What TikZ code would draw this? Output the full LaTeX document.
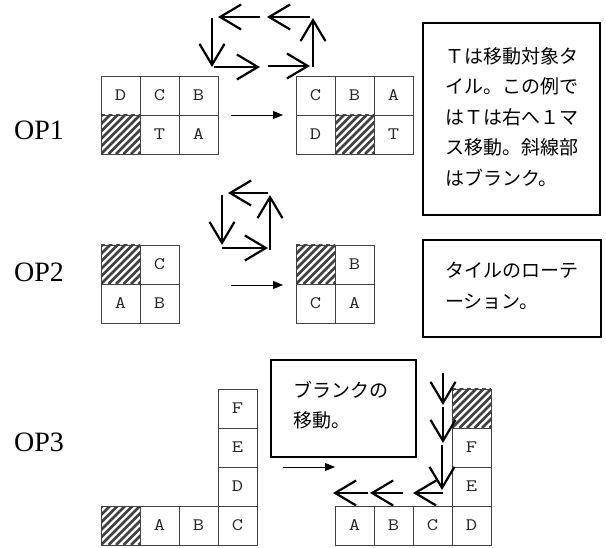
\documentclass[tikz,border=0pt]{standalone}
\usepackage{fontspec}
\setmainfont{Liberation Serif}
\newfontfamily\jp{Noto Sans CJK JP}
\newfontfamily\cellfont[FakeStretch=1.25]{Latin Modern Mono}
\usetikzlibrary{arrows.meta}
\begin{document}
\begin{tikzpicture}[x=1pt,y=-1pt,
  cell/.style={draw=black!75, line width=0.9pt, minimum width=39pt, minimum height=39pt, inner sep=0pt, text=black!85, font=\cellfont\fontsize{17.5}{17.5}\selectfont},
  blank/.style={cell, path picture={\foreach \k in {-45,-37.5,...,45} \draw[line width=2.7pt] ([xshift=\k pt]path picture bounding box.south west) -- ++(42pt,42pt);}},
  oplabel/.style={anchor=base west, inner sep=0pt, font=\fontsize{28}{28}\selectfont},
  note/.style={draw, line width=2pt, inner sep=0pt},
  notetext/.style={anchor=north west, align=left, inner sep=0pt, font=\jp\fontsize{19}{30.5}\selectfont},
  move/.style={line width=0.8pt, -{Triangle[length=10pt,width=8pt]}},
  cyc/.style={line width=2.2pt, -{Straight Barb[length=21pt,width=25pt]}}
]
\useasboundingbox (0,0) rectangle (606,548);

% ---------- OP1 ----------
\node[oplabel] (op1) at (14,140) {OP1};
\node[cell]  (a1) at (120.5,95.5) {D};
\node[cell]  (a2) at (159.5,95.5) {C};
\node[cell]  (a3) at (198.5,95.5) {B};
\node[blank] (a4) at (120.5,134.5) {};
\node[cell]  (a5) at (159.5,134.5) {T};
\node[cell]  (a6) at (198.5,134.5) {A};
\node[cell]  (b1) at (315.5,95.5) {C};
\node[cell]  (b2) at (354.5,95.5) {B};
\node[cell]  (b3) at (393.5,95.5) {A};
\node[cell]  (b4) at (315.5,134.5) {D};
\node[blank] (b5) at (354.5,134.5) {};
\node[cell]  (b6) at (393.5,134.5) {T};
\coordinate (m1s) at (231,115);
\coordinate (m1e) at (283,115);
\draw[move] (m1s) -- (m1e);
\coordinate (c1a) at (212,18);
\coordinate (c1b) at (212,67);
\coordinate (c1c) at (214,67);
\coordinate (c1d) at (260,67);
\coordinate (c1e) at (268,66);
\coordinate (c1f) at (310,66);
\coordinate (c1g) at (313,67);
\coordinate (c1h) at (313,18);
\coordinate (c1i) at (310,17);
\coordinate (c1j) at (267,17);
\coordinate (c1k) at (260,17);
\coordinate (c1l) at (218,17);
\draw[cyc] (c1a) -- (c1b);
\draw[cyc] (c1c) -- (c1d);
\draw[cyc] (c1e) -- (c1f);
\draw[cyc] (c1g) -- (c1h);
\draw[cyc] (c1i) -- (c1j);
\draw[cyc] (c1k) -- (c1l);
\node[note, minimum width=177pt, minimum height=192pt] (n1) at (511.5,119) {};
\node[notetext] (t1) at (445,47) {Ｔは移動対象タ\\イル。この例で\\はＴは右へ１マ\\ス移動。斜線部\\はブランク。};

% ---------- OP2 ----------
\node[oplabel] (op2) at (14,282) {OP2};
\node[blank] (c1) at (120.5,264.5) {};
\node[cell]  (c2) at (159.5,264.5) {C};
\node[cell]  (c3) at (120.5,303.5) {A};
\node[cell]  (c4) at (159.5,303.5) {B};
\node[blank] (d1) at (315.5,264.5) {};
\node[cell]  (d2) at (354.5,264.5) {B};
\node[cell]  (d3) at (315.5,303.5) {C};
\node[cell]  (d4) at (354.5,303.5) {A};
\coordinate (m2s) at (231,285);
\coordinate (m2e) at (283,285);
\draw[move] (m2s) -- (m2e);
\coordinate (r2a) at (268,193);
\coordinate (r2b) at (228,193);
\coordinate (r2c) at (222,195);
\coordinate (r2d) at (222,245);
\coordinate (r2e) at (222,248);
\coordinate (r2f) at (268,248);
\coordinate (r2g) at (270,250);
\coordinate (r2h) at (270,195);
\draw[cyc] (r2a) -- (r2b);
\draw[cyc] (r2c) -- (r2d);
\draw[cyc] (r2e) -- (r2f);
\draw[cyc] (r2g) -- (r2h);
\node[note, minimum width=178pt, minimum height=97pt] (n2) at (512,288.5) {};
\node[notetext] (t2) at (445,262) {タイルのローテ\\ーション。};

% ---------- OP3 ----------
\node[oplabel] (op3) at (14,452) {OP3};
\node[blank] (e1) at (120.5,525.5) {};
\node[cell]  (e2) at (159.5,525.5) {A};
\node[cell]  (e3) at (198.5,525.5) {B};
\node[cell]  (e4) at (237.5,525.5) {C};
\node[cell]  (e5) at (237.5,486.5) {D};
\node[cell]  (e6) at (237.5,447.5) {E};
\node[cell]  (e7) at (237.5,408.5) {F};
\node[cell]  (f1) at (354.5,525.5) {A};
\node[cell]  (f2) at (393.5,525.5) {B};
\node[cell]  (f3) at (432.5,525.5) {C};
\node[cell]  (f4) at (471.5,525.5) {D};
\node[cell]  (f5) at (471.5,486.5) {E};
\node[cell]  (f6) at (471.5,447.5) {F};
\node[blank] (f7) at (471.5,408.5) {};
\coordinate (m3s) at (283,467);
\coordinate (m3e) at (335,467);
\draw[move] (m3s) -- (m3e);
\coordinate (s3a) at (443,373);
\coordinate (s3b) at (443,405);
\coordinate (s3c) at (443,407);
\coordinate (s3d) at (443,443);
\coordinate (s3e) at (442,445);
\coordinate (s3f) at (442,490);
\coordinate (s3g) at (443,493);
\coordinate (s3h) at (413,493);
\coordinate (s3i) at (403,493);
\coordinate (s3j) at (370,493);
\coordinate (s3k) at (368,493);
\coordinate (s3l) at (333,493);
\draw[cyc] (s3a) -- (s3b);
\draw[cyc] (s3c) -- (s3d);
\draw[cyc] (s3e) -- (s3f);
\draw[cyc] (s3g) -- (s3h);
\draw[cyc] (s3i) -- (s3j);
\draw[cyc] (s3k) -- (s3l);
\node[note, minimum width=145pt, minimum height=97pt] (n3) at (343.5,408.5) {};
\node[notetext] (t3) at (293,381) {ブランクの\\移動。};
\end{tikzpicture}
\end{document}
